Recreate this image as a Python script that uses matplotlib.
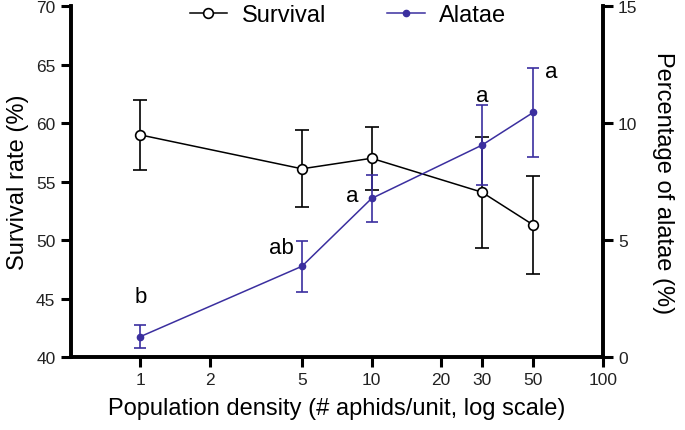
import matplotlib
matplotlib.use('Agg')
import matplotlib.pyplot as plt
from matplotlib.lines import Line2D

plt.rcParams['font.family'] = ['Liberation Sans', 'DejaVu Sans']

# data
density = [1, 5, 10, 30, 50]
survival = [59.0, 56.1, 57.0, 54.1, 51.3]
survival_err = [3.0, 3.3, 2.7, 4.75, 4.2]
alatae = [0.87, 3.88, 6.78, 9.06, 10.46]
alatae_err = [0.5, 1.1, 1.0, 1.7, 1.9]
letters = ['b', 'ab', 'a', 'a', 'a']
letter_x = [1, 4.6, 8.8, 30, 60]
letter_y = [2.6, 4.7, 6.9, 11.2, 12.2]
letter_ha = ['center', 'right', 'right', 'center', 'center']
xticks = [1, 2, 5, 10, 20, 30, 50, 100]

BLUE = '#3b2f9f'
LW_SPINE = 2.6

fig = plt.figure(figsize=(6.85, 4.31), dpi=100)
ax = fig.add_axes([0.1032, 0.1694, 0.7768, 0.8136])
ax2 = ax.twinx()

ax.errorbar(density, survival, yerr=survival_err, color='black', lw=1.1,
            marker='o', ms=7, mfc='white', mec='black', mew=1.2,
            capsize=5, capthick=1.2, elinewidth=1.2, zorder=3)
ax2.errorbar(density, alatae, yerr=alatae_err, color=BLUE, lw=1.1,
             marker='o', ms=4.5, mfc=BLUE, mec=BLUE,
             capsize=4, capthick=1.2, elinewidth=1.2, zorder=3)

for t, x, y, ha in zip(letters, letter_x, letter_y, letter_ha):
    ax2.text(x, y, t, ha=ha, va='center', fontsize=16)

ax.set_xscale('log')
ax.set_xlim(0.5, 100)
ax.set_xticks(xticks)
ax.set_xticklabels([str(v) for v in xticks])
ax.xaxis.set_minor_locator(matplotlib.ticker.NullLocator())
ax.set_ylim(40, 70)
ax.set_yticks(range(40, 71, 5))
ax2.set_ylim(0, 15)
ax2.set_yticks([0, 5, 10, 15])

for a in (ax, ax2):
    a.spines['top'].set_visible(False)
    for s in ('left', 'right', 'bottom'):
        a.spines[s].set_linewidth(LW_SPINE)
    a.tick_params(axis='both', which='major', direction='out', length=7,
                  width=2.2, labelsize=12.5, pad=4, labelcolor='#222222')

ax.set_xlabel('Population density (# aphids/unit, log scale)', fontsize=17,
              labelpad=7)
ax.set_ylabel('Survival rate (%)', fontsize=17, labelpad=5)
ax2.set_ylabel('Percentage of alatae (%)', fontsize=17, rotation=270,
               labelpad=26)

handles = [
    Line2D([], [], color='black', lw=1.1, marker='o', ms=7, mfc='white',
           mec='black', mew=1.2),
    Line2D([], [], color=BLUE, lw=1.1, marker='o', ms=4.5, mfc=BLUE,
           mec=BLUE),
]
fig.legend(handles, ['Survival', 'Alatae'], loc='center',
           bbox_to_anchor=(0.508, 0.962), ncol=2, frameon=False, fontsize=17,
           handlelength=1.6, handletextpad=0.6, columnspacing=2.6)

fig.savefig('out.png', dpi=100)
